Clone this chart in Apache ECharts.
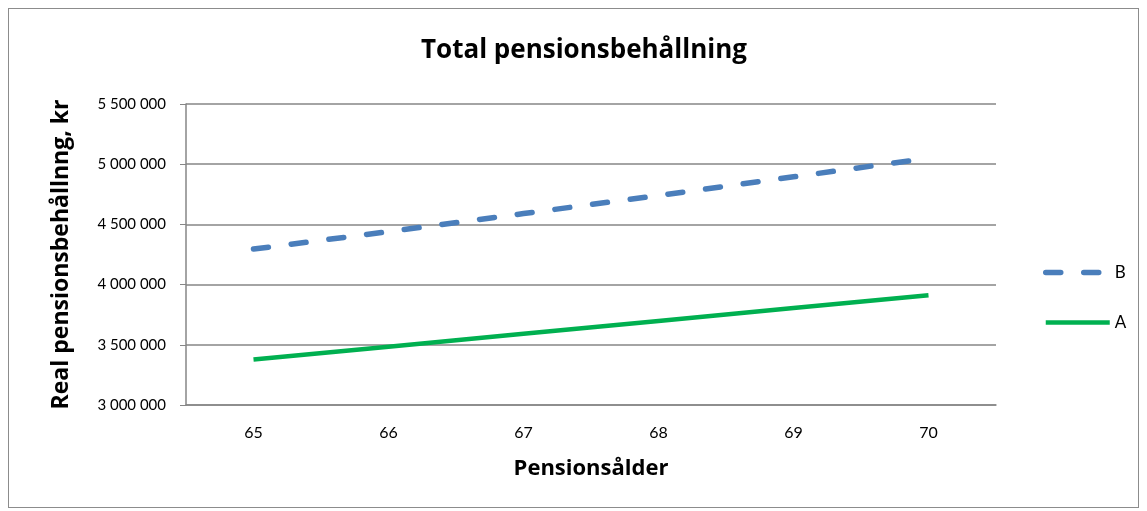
<!DOCTYPE html>
<html>
<head>
    <meta charset="utf-8">
    <script src="https://cdn.jsdelivr.net/npm/echarts@6/dist/echarts.min.js"></script>
    <style>
        body { margin: 0; background: #fff; }
        #frame { position: absolute; left: 8px; top: 8px; width: 1131px; height: 500px; border: 1px solid #8c8c8c; box-sizing: border-box; }
    </style>
</head>
<body>
    <div id="frame"></div>
    <div id="main" style="position:absolute;left:0;top:0;width:1147px;height:511px;"></div>
    <script type="text/javascript">
        // kategorier och värden
        var ages = ['65', '66', '67', '68', '69', '70'];
        var seriesB = [4295000, 4440000, 4590000, 4740000, 4895000, 5050000];
        var seriesA = [3377000, 3484000, 3591000, 3698000, 3805000, 3912000];
        var yTicks = [3000000, 3500000, 4000000, 4500000, 5000000, 5500000];

        var font = 'Lato, "Open Sans", sans-serif';
        var boldFont = '"Open Sans", Lato, sans-serif';
        var blueLine = { color: '#4a7ebb', width: 5.5, type: [15, 23], cap: 'round' };
        var greenLine = { color: '#00b050', width: 4.5 };

        var myChart = echarts.init(document.getElementById('main'));
        myChart.setOption({
            animation: false,
            textStyle: { fontFamily: font },
            title: {
                text: 'Total pensionsbehållning',
                left: 416,
                top: 33,
                textStyle: { fontSize: 26, fontWeight: 'bold', color: '#000', fontFamily: boldFont }
            },
            legend: {
                data: [
                    { name: 'B', lineStyle: blueLine },
                    { name: 'A', lineStyle: greenLine }
                ],
                orient: 'vertical',
                left: 1038,
                top: 259,
                itemWidth: 64,
                itemHeight: 14,
                itemGap: 33,
                itemStyle: { opacity: 0 },
                textStyle: { fontSize: 17, color: '#000' }
            },
            grid: { left: 186, right: 151, top: 104, bottom: 106 },
            xAxis: {
                type: 'category',
                data: ages,
                boundaryGap: true,
                name: 'Pensionsålder',
                nameLocation: 'middle',
                nameGap: 53,
                nameTextStyle: { fontSize: 22, fontWeight: 'bold', color: '#000', fontFamily: boldFont },
                axisLine: { lineStyle: { color: '#868686', width: 1.5 } },
                axisTick: { length: 5, lineStyle: { color: '#868686' } },
                axisLabel: { fontSize: 16, color: '#000', margin: 20 }
            },
            yAxis: {
                type: 'value',
                min: yTicks[0],
                max: yTicks[yTicks.length - 1],
                interval: 500000,
                name: 'Real pensionsbehållnng, kr',
                nameLocation: 'middle',
                nameGap: 113,
                nameTextStyle: { fontSize: 23, fontWeight: 'bold', color: '#000', fontFamily: boldFont },
                axisLine: { show: true, lineStyle: { color: '#868686', width: 1.5 } },
                axisTick: { show: true, length: 6, lineStyle: { color: '#868686' } },
                splitLine: { lineStyle: { color: '#868686', width: 1.5 } },
                axisLabel: {
                    fontSize: 15, color: '#000', margin: 20,
                    formatter: function (v) {
                        return String(v).replace(/\B(?=(\d{3})+(?!\d))/g, ' ');
                    }
                }
            },
            series: [{
                name: 'B',
                type: 'line',
                data: seriesB,
                symbol: 'none',
                color: '#4a7ebb',
                lineStyle: blueLine
            }, {
                name: 'A',
                type: 'line',
                data: seriesA,
                symbol: 'none',
                color: '#00b050',
                lineStyle: greenLine
            }]
        });
    </script>
</body>
</html>
